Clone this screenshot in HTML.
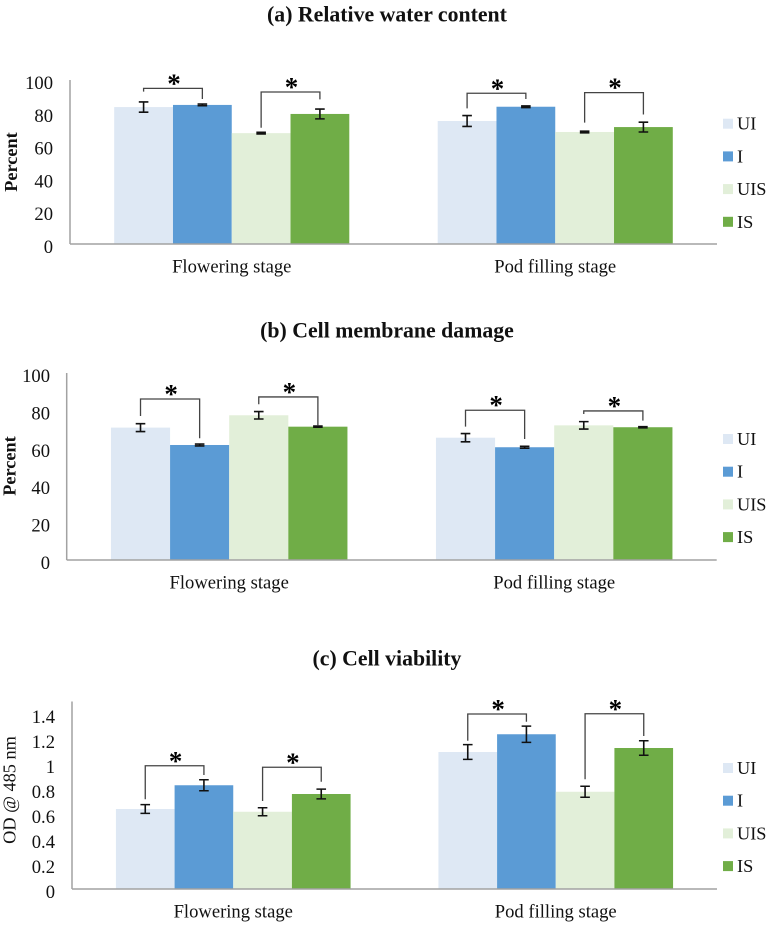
<!DOCTYPE html>
<html lang="en">
<head>
<meta charset="utf-8">
<title>Relative water content, cell membrane damage and cell viability</title>
<style>
  html, body { margin: 0; padding: 0; background: #fff; }
  svg { display: block; }
  text { font-family: "Liberation Serif", serif; fill: #111; }
  .title { font-size: 21.8px; font-weight: bold; text-anchor: middle; }
  .tick { font-size: 18.6px; text-anchor: end; }
  .cat { font-size: 18.6px; text-anchor: middle; }
  .leg { font-size: 18.3px; }
  .ylab { font-size: 18.3px; text-anchor: middle; }
  .star { font-size: 27px; font-weight: bold; text-anchor: middle; fill: #000; }
</style>
</head>
<body>
<svg id="figure" xmlns="http://www.w3.org/2000/svg" width="774" height="927" viewBox="0 0 774 927">
  <rect x="0" y="0" width="774" height="927" fill="#ffffff"/>
  <text class="title" x="387" y="21.5">(a) Relative water content</text>
  <text class="title" x="387" y="337.5">(b) Cell membrane damage</text>
  <text class="title" x="387" y="665.5">(c) Cell viability</text>
</svg>
<script>
const categories = ['Flowering stage', 'Pod filling stage'];
const seriesNames = ['UI', 'I', 'UIS', 'IS'];
const seriesColors = ['#dee8f4', '#5b9bd5', '#e2efd9', '#70ad47'];

const aTicks = ['0', '20', '40', '60', '80', '100'];
const aFlowering = [83.5, 84.8, 67.6, 79.3];
const aPodFilling = [75, 83.7, 68.3, 71.3];
const aFloweringErr = [3.1, 0.5, 0.5, 3.0];
const aPodFillingErr = [3.3, 0.5, 0.5, 3.0];
const aBracketTop = [94.9, 92.7, 91.9, 92.3];
const aBracketLeft = [92.9, 70.9, 82.7, 74];
const aBracketRight = [88.4, 88.2, 88.4, 79];

const bTicks = ['0', '20', '40', '60', '80', '100'];
const bFlowering = [70.8, 61.5, 77.4, 71.3];
const bPodFilling = [65.4, 60.3, 72, 71];
const bFloweringErr = [2.1, 0.5, 2.0, 0.3];
const bPodFillingErr = [2.2, 0.5, 2.0, 0.3];
const bBracketTop = [86.1, 87.2, 80.1, 79.7];
const bBracketLeft = [77, 83.3, 71.3, 78.1];
const bBracketRight = [65.1, 71.8, 64.7, 74.5];

const cTicks = ['0', '0.2', '0.4', '0.6', '0.8', '1', '1.2', '1.4'];
const cFlowering = [0.64, 0.83, 0.618, 0.76];
const cPodFilling = [1.096, 1.238, 0.778, 1.128];
const cFloweringErr = [0.035, 0.044, 0.032, 0.039];
const cPodFillingErr = [0.059, 0.065, 0.044, 0.058];
const cBracketTop = [0.986, 0.974, 1.4, 1.402];
const cBracketLeft = [0.718, 0.704, 1.186, 0.878];
const cBracketRight = [0.912, 0.858, 1.338, 1.224];

const NS = 'http://www.w3.org/2000/svg';
const figure = document.getElementById('figure');

function make(parent, tag, attrs, text) {
  const el = document.createElementNS(NS, tag);
  for (const k in attrs) el.setAttribute(k, attrs[k]);
  if (text !== undefined) el.textContent = text;
  parent.appendChild(el);
  return el;
}

function drawPanel(p) {
  const group = make(figure, 'g', {});
  
  

  const yOf = v => p.bottom - (v / p.max) * (p.bottom - p.top);
  const catW = (p.right - p.left) / categories.length;
  const barW = catW * p.barShare / seriesNames.length;
  const catX = i => p.left + catW * (i + 0.5);
  const barX = (c, s) => catX(c) - barW * seriesNames.length / 2 + barW * s;
  const barMid = (c, s) => barX(c, s) + barW / 2;

  // bars and error bars
  p.values.forEach((vals, c) => {
    vals.forEach((v, s) => {
      const bar = make(group, 'rect', { x: barX(c, s), y: yOf(v), width: barW, height: p.bottom - yOf(v), fill: seriesColors[s] });
      
      
    });
  });
  p.values.forEach((vals, c) => {
    vals.forEach((v, s) => {
      const e = p.errors[c][s];
      const mx = barMid(c, s);
      const d = 'M' + mx + ' ' + yOf(v + e) + 'V' + yOf(v - e) +
                'M' + (mx - 4.8) + ' ' + yOf(v + e) + 'H' + (mx + 4.8) +
                'M' + (mx - 4.8) + ' ' + yOf(v - e) + 'H' + (mx + 4.8);
      const err = make(group, 'path', { d: d, fill: 'none', stroke: '#111', 'stroke-width': 1.6 });
      
      
    });
  });

  // axes
  const yAxis = make(group, 'line', { x1: p.left, x2: p.left, y1: p.top, y2: p.bottom, stroke: '#a2a2a2', 'stroke-width': 1.5 });
  
  
  const xAxis = make(group, 'line', { x1: p.left, x2: p.right, y1: p.bottom, y2: p.bottom, stroke: '#a2a2a2', 'stroke-width': 1.5 });
  
  

  // tick labels
  p.ticks.forEach(t => {
    const label = make(group, 'text', { class: 'tick', x: p.tickRight, y: yOf(parseFloat(t)) + 9 }, t);
    
    
  });
  categories.forEach((name, c) => {
    const label = make(group, 'text', { class: 'cat', x: catX(c), y: p.bottom + 28.5 }, name);
    
    
  });

  // y axis title
  const ylab = make(group, 'text', {
    class: 'ylab',
    x: 0, y: 0,
    'font-weight': p.yBold ? 'bold' : 'normal',
    transform: 'translate(' + p.yTitleX + ' ' + p.yTitleY + ') rotate(-90)'
  }, p.yTitle);
  
  

  // significance brackets: each category has two, linking series 0-1 and 2-3
  p.bracketTop.forEach((top, i) => {
    const c = Math.floor(i / 2);
    const s = (i % 2) * 2;
    const x1 = barMid(c, s);
    const x2 = barMid(c, s + 1);
    const d = 'M' + x1 + ' ' + yOf(p.bracketLeft[i]) + 'V' + yOf(top) + 'H' + x2 + 'V' + yOf(p.bracketRight[i]);
    const bracket = make(group, 'path', { d: d, fill: 'none', stroke: '#444', 'stroke-width': 1.3 });
    
    
    const star = make(group, 'text', { class: 'star', x: (x1 + x2) / 2 + 1, y: yOf(top) + 4 }, '*');
    
    
  });

  // legend
  seriesNames.forEach((name, s) => {
    const cy = p.legendTop + s * 32.7;
    const swatch = make(group, 'rect', { x: 723, y: cy - 5, width: 10, height: 10, fill: seriesColors[s] });
    
    
    const label = make(group, 'text', { class: 'leg', x: 737, y: cy + 6 }, name);
    
    
  });
}

drawPanel({
  id: 'a', left: 70, right: 717, top: 80, bottom: 244, max: 100, barShare: 0.7267, tickRight: 53,
  ticks: aTicks, values: [aFlowering, aPodFilling], errors: [aFloweringErr, aPodFillingErr],
  bracketTop: aBracketTop, bracketLeft: aBracketLeft, bracketRight: aBracketRight,
  yTitle: 'Percent', yBold: true, yTitleX: 17, yTitleY: 162, legendTop: 123.7
});
drawPanel({
  id: 'b', left: 66.7, right: 716.7, top: 373, bottom: 560, max: 100, barShare: 0.7277, tickRight: 50,
  ticks: bTicks, values: [bFlowering, bPodFilling], errors: [bFloweringErr, bPodFillingErr],
  bracketTop: bBracketTop, bracketLeft: bBracketLeft, bracketRight: bBracketRight,
  yTitle: 'Percent', yBold: true, yTitleX: 15.5, yTitleY: 466, legendTop: 439
});
drawPanel({
  id: 'c', left: 72, right: 717, top: 701.5, bottom: 889, max: 1.5, barShare: 0.7276, tickRight: 55,
  ticks: cTicks, values: [cFlowering, cPodFilling], errors: [cFloweringErr, cPodFillingErr],
  bracketTop: cBracketTop, bracketLeft: cBracketLeft, bracketRight: cBracketRight,
  yTitle: 'OD @ 485 nm', yBold: false, yTitleX: 15.5, yTitleY: 790, legendTop: 768
});
</script>
</body>
</html>
